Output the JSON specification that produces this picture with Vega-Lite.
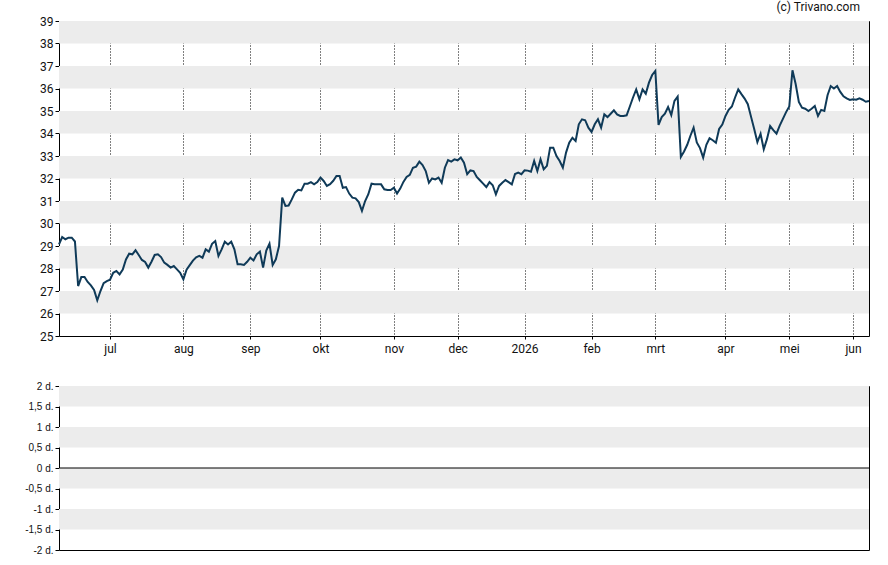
{
  "$schema": "https://vega.github.io/schema/vega-lite/v6.json",
  "background": "white",
  "padding": {"left": 24, "top": 0, "right": 10, "bottom": 5},
  "bounds": "flush",
  "spacing": 50,
  "config": {
    "view": {"stroke": "#000", "strokeWidth": 1},
    "font": "Roboto",
    "axis": {"labelFont": "Roboto", "labelColor": "#111", "labelFontSize": 12, "domain": false, "tickColor": "#000", "tickSize": 4, "labelOverlap": false}
  },
  "datasets": {
    "price": [
      {"t":0,"p":29.07},{"t":1,"p":29.4},{"t":2,"p":29.3},{"t":3,"p":29.37},{"t":4,"p":29.37},{"t":5,"p":29.2},{"t":6,"p":27.22},{"t":7,"p":27.62},{"t":8,"p":27.62},{"t":9,"p":27.4},
      {"t":10,"p":27.25},{"t":11,"p":27.05},{"t":12,"p":26.59},{"t":13,"p":27.0},{"t":14,"p":27.35},{"t":15,"p":27.44},{"t":16,"p":27.5},{"t":17,"p":27.81},{"t":18,"p":27.89},{"t":19,"p":27.74},
      {"t":20,"p":27.95},{"t":21,"p":28.4},{"t":22,"p":28.66},{"t":23,"p":28.63},{"t":24,"p":28.81},{"t":25,"p":28.6},{"t":26,"p":28.38},{"t":27,"p":28.29},{"t":28,"p":28.04},{"t":29,"p":28.3},
      {"t":30,"p":28.6},{"t":31,"p":28.63},{"t":32,"p":28.51},{"t":33,"p":28.26},{"t":34,"p":28.16},{"t":35,"p":28.04},{"t":36,"p":28.11},{"t":37,"p":27.96},{"t":38,"p":27.81},{"t":39,"p":27.52},
      {"t":40,"p":27.95},{"t":41,"p":28.15},{"t":42,"p":28.35},{"t":43,"p":28.5},{"t":44,"p":28.56},{"t":45,"p":28.48},{"t":46,"p":28.85},{"t":47,"p":28.75},{"t":48,"p":29.1},{"t":49,"p":29.22},
      {"t":50,"p":28.56},{"t":51,"p":28.85},{"t":52,"p":29.19},{"t":53,"p":29.07},{"t":54,"p":29.19},{"t":55,"p":28.85},{"t":56,"p":28.19},{"t":57,"p":28.19},{"t":58,"p":28.16},{"t":59,"p":28.3},
      {"t":60,"p":28.48},{"t":61,"p":28.36},{"t":62,"p":28.63},{"t":63,"p":28.75},{"t":64,"p":28.04},{"t":65,"p":28.8},{"t":66,"p":29.1},{"t":67,"p":28.16},{"t":68,"p":28.41},{"t":69,"p":29.0},
      {"t":70,"p":31.15},{"t":71,"p":30.78},{"t":72,"p":30.8},{"t":73,"p":31.07},{"t":74,"p":31.37},{"t":75,"p":31.5},{"t":76,"p":31.47},{"t":77,"p":31.77},{"t":78,"p":31.77},{"t":79,"p":31.84},
      {"t":80,"p":31.74},{"t":81,"p":31.84},{"t":82,"p":32.04},{"t":83,"p":31.89},{"t":84,"p":31.67},{"t":85,"p":31.75},{"t":86,"p":31.9},{"t":87,"p":32.11},{"t":88,"p":32.11},{"t":89,"p":31.59},
      {"t":90,"p":31.62},{"t":91,"p":31.33},{"t":92,"p":31.15},{"t":93,"p":31.12},{"t":94,"p":30.95},{"t":95,"p":30.56},{"t":96,"p":31.0},{"t":97,"p":31.3},{"t":98,"p":31.77},{"t":99,"p":31.74},
      {"t":100,"p":31.74},{"t":101,"p":31.74},{"t":102,"p":31.52},{"t":103,"p":31.49},{"t":104,"p":31.49},{"t":105,"p":31.59},{"t":106,"p":31.33},{"t":107,"p":31.55},{"t":108,"p":31.85},{"t":109,"p":32.07},
      {"t":110,"p":32.16},{"t":111,"p":32.48},{"t":112,"p":32.53},{"t":113,"p":32.75},{"t":114,"p":32.6},{"t":115,"p":32.33},{"t":116,"p":31.81},{"t":117,"p":32.0},{"t":118,"p":31.96},{"t":119,"p":32.04},
      {"t":120,"p":31.81},{"t":121,"p":32.48},{"t":122,"p":32.82},{"t":123,"p":32.75},{"t":124,"p":32.85},{"t":125,"p":32.81},{"t":126,"p":32.93},{"t":127,"p":32.7},{"t":128,"p":32.19},{"t":129,"p":32.36},
      {"t":130,"p":32.33},{"t":131,"p":32.07},{"t":132,"p":31.92},{"t":133,"p":31.77},{"t":134,"p":31.62},{"t":135,"p":31.84},{"t":136,"p":31.7},{"t":137,"p":31.3},{"t":138,"p":31.67},{"t":139,"p":31.81},
      {"t":140,"p":31.93},{"t":141,"p":31.84},{"t":142,"p":31.74},{"t":143,"p":32.2},{"t":144,"p":32.26},{"t":145,"p":32.19},{"t":146,"p":32.36},{"t":147,"p":32.35},{"t":148,"p":32.3},{"t":149,"p":32.78},
      {"t":150,"p":32.33},{"t":151,"p":32.85},{"t":152,"p":32.41},{"t":153,"p":32.56},{"t":154,"p":33.37},{"t":155,"p":33.37},{"t":156,"p":33.0},{"t":157,"p":32.78},{"t":158,"p":32.48},{"t":159,"p":33.15},
      {"t":160,"p":33.59},{"t":161,"p":33.81},{"t":162,"p":33.67},{"t":163,"p":34.41},{"t":164,"p":34.63},{"t":165,"p":34.59},{"t":166,"p":34.26},{"t":167,"p":34.07},{"t":168,"p":34.41},{"t":169,"p":34.63},
      {"t":170,"p":34.26},{"t":171,"p":34.85},{"t":172,"p":34.73},{"t":173,"p":34.88},{"t":174,"p":35.03},{"t":175,"p":34.85},{"t":176,"p":34.78},{"t":177,"p":34.78},{"t":178,"p":34.81},{"t":179,"p":35.2},
      {"t":180,"p":35.6},{"t":181,"p":35.96},{"t":182,"p":35.52},{"t":183,"p":35.96},{"t":184,"p":35.77},{"t":185,"p":36.26},{"t":186,"p":36.6},{"t":187,"p":36.78},{"t":188,"p":34.38},{"t":189,"p":34.73},
      {"t":190,"p":34.88},{"t":191,"p":35.18},{"t":192,"p":34.82},{"t":193,"p":35.45},{"t":194,"p":35.64},{"t":195,"p":32.96},{"t":196,"p":33.2},{"t":197,"p":33.5},{"t":198,"p":33.9},{"t":199,"p":34.26},
      {"t":200,"p":33.6},{"t":201,"p":33.35},{"t":202,"p":32.93},{"t":203,"p":33.5},{"t":204,"p":33.79},{"t":205,"p":33.7},{"t":206,"p":33.59},{"t":207,"p":34.2},{"t":208,"p":34.4},{"t":209,"p":34.78},
      {"t":210,"p":35.05},{"t":211,"p":35.2},{"t":212,"p":35.6},{"t":213,"p":35.96},{"t":214,"p":35.75},{"t":215,"p":35.55},{"t":216,"p":35.3},{"t":217,"p":34.75},{"t":218,"p":34.2},{"t":219,"p":33.62},
      {"t":220,"p":33.99},{"t":221,"p":33.3},{"t":222,"p":33.75},{"t":223,"p":34.33},{"t":224,"p":34.15},{"t":225,"p":33.99},{"t":226,"p":34.35},{"t":227,"p":34.65},{"t":228,"p":34.95},{"t":229,"p":35.2},
      {"t":230,"p":36.81},{"t":231,"p":36.2},{"t":232,"p":35.4},{"t":233,"p":35.15},{"t":234,"p":35.1},{"t":235,"p":35.0},{"t":236,"p":35.1},{"t":237,"p":35.22},{"t":238,"p":34.78},{"t":239,"p":35.05},
      {"t":240,"p":35.0},{"t":241,"p":35.7},{"t":242,"p":36.11},{"t":243,"p":36.0},{"t":244,"p":36.11},{"t":245,"p":35.85},{"t":246,"p":35.65},{"t":247,"p":35.56},{"t":248,"p":35.49},{"t":249,"p":35.52},
      {"t":250,"p":35.5},{"t":251,"p":35.56},{"t":252,"p":35.5},{"t":253,"p":35.41},{"t":254,"p":35.44}
    ],
    "bands": [
      {"lo":38,"hi":39},{"lo":36,"hi":37},{"lo":34,"hi":35},{"lo":32,"hi":33},{"lo":30,"hi":31},{"lo":28,"hi":29},{"lo":26,"hi":27}
    ],
    "bands2": [
      {"lo":1.5,"hi":2},{"lo":0.5,"hi":1},{"lo":-0.5,"hi":0},{"lo":-1.5,"hi":-1}
    ],
    "zero": [{"v":0}]
  },
  "vconcat": [
    {
      "width": 810,
      "height": 315,
      "title": {"text": "(c) Trivano.com", "anchor": "end", "fontSize": 12, "font": "Roboto", "fontWeight": "normal", "color": "#111", "offset": 1, "dx": -13},
      "layer": [
        {
          "data": {"name": "bands"},
          "mark": {"type": "rect", "color": "#ececec"},
          "encoding": {
            "y": {"field": "lo", "type": "quantitative", "scale": {"domain": [25, 39], "nice": false, "zero": false},
              "axis": {"values": [25,26,27,28,29,30,31,32,33,34,35,36,37,38,39], "title": null, "grid": false, "labelPadding": 2, "labelOverlap": false, "labelSeparation": 0}},
            "y2": {"field": "hi"}
          }
        },
        {
          "data": {"name": "price"},
          "mark": {"type": "line", "color": "#0f3a58", "strokeWidth": 2},
          "encoding": {
            "x": {"field": "t", "type": "quantitative", "scale": {"domain": [0, 254], "nice": false, "zero": false},
              "axis": {"values": [16,39,60,82,105,125,146,167,187,209,229,249], "title": null, "grid": true, "gridDash": [1,2], "gridColor": "#000", "gridOpacity": 1, "ticks": true, "tickSize": 3, "labelPadding": 4, "labelOverlap": false,
                "labelExpr": "['jul','aug','sep','okt','nov','dec','2026','feb','mrt','apr','mei','jun'][indexof([16,39,60,82,105,125,146,167,187,209,229,249], datum.value)]"}},
            "y": {"field": "p", "type": "quantitative", "axis": {"values": [25,26,27,28,29,30,31,32,33,34,35,36,37,38,39], "title": null, "grid": false, "labelPadding": 2, "labelOverlap": false, "labelSeparation": 0}}
          }
        }
      ]
    },
    {
      "width": 810,
      "height": 164,
      "layer": [
        {
          "data": {"name": "bands2"},
          "mark": {"type": "rect", "color": "#ececec"},
          "encoding": {
            "y": {"field": "lo", "type": "quantitative", "scale": {"domain": [-2, 2], "nice": false, "zero": false},
              "axis": {"values": [-2,-1.5,-1,-0.5,0,0.5,1,1.5,2], "title": null, "grid": false, "labelPadding": 2, "labelFont": "Liberation Sans", "labelFontSize": 10, "labelOverlap": false, "labelSeparation": 0,
                "labelExpr": "replace(toString(datum.value), '.', ',') + ' d.'"}},
            "y2": {"field": "hi"}
          }
        },
        {
          "data": {"name": "zero"},
          "mark": {"type": "rule", "color": "#000", "strokeWidth": 1},
          "encoding": {"y": {"field": "v", "type": "quantitative",
            "axis": {"values": [-2,-1.5,-1,-0.5,0,0.5,1,1.5,2], "title": null, "grid": false, "labelPadding": 2, "labelFont": "Liberation Sans", "labelFontSize": 10, "labelOverlap": false, "labelSeparation": 0,
              "labelExpr": "replace(toString(datum.value), '.', ',') + ' d.'"}}}
        }
      ]
    }
  ]
}
